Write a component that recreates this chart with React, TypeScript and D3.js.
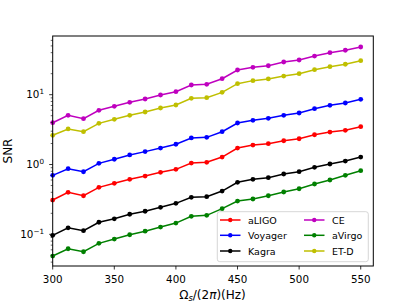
import React from 'react'
import { scaleLinear, scaleLog, line } from 'd3'

// frequency grid (Hz)
const freqs = [300, 312.5, 325, 337.5, 350, 362.5, 375, 387.5, 400, 412.5, 425, 437.5, 450, 462.5, 475, 487.5, 500, 512.5, 525, 537.5, 550]

const aLIGO = [0.31, 0.4, 0.357, 0.471, 0.538, 0.614, 0.684, 0.773, 0.853, 1.05, 1.075, 1.28, 1.72, 1.9, 1.99, 2.19, 2.34, 2.67, 2.92, 3.09, 3.48]
const voyager = [0.7, 0.871, 0.788, 1.04, 1.19, 1.37, 1.53, 1.72, 1.95, 2.4, 2.45, 2.95, 3.93, 4.3, 4.59, 5.07, 5.47, 6.3, 7.05, 7.6, 8.59]
const kagra = [0.0968, 0.124, 0.113, 0.149, 0.167, 0.194, 0.214, 0.244, 0.278, 0.339, 0.346, 0.417, 0.556, 0.614, 0.647, 0.731, 0.789, 0.912, 1.017, 1.12, 1.28]
const ce = [3.97, 5.07, 4.53, 5.98, 6.82, 7.78, 8.68, 9.9, 11.04, 13.77, 14.09, 16.95, 22.6, 24.7, 26.0, 29.4, 31.4, 35.8, 40.0, 43.3, 48.2]
const aVirgo = [0.0489, 0.0622, 0.0563, 0.0743, 0.0856, 0.0987, 0.111, 0.127, 0.145, 0.181, 0.187, 0.233, 0.3, 0.321, 0.357, 0.404, 0.45, 0.526, 0.6, 0.7, 0.815]
const etD = [2.62, 3.23, 2.95, 3.89, 4.44, 5.07, 5.65, 6.45, 7.12, 8.88, 9.06, 10.8, 14.4, 15.9, 16.8, 18.5, 20.0, 22.8, 25.2, 27.3, 30.7]

const seriesNames = ['aLIGO', 'Voyager', 'Kagra', 'CE', 'aVirgo', 'ET-D']
const seriesValues = [aLIGO, voyager, kagra, ce, aVirgo, etD]
const seriesColors = ['#ff0000', '#0000ff', '#000000', '#bf00bf', '#008000', '#bfbf00']

const xTicks = [300, 350, 400, 450, 500, 550]
const yMajor = [0.1, 1, 10]
const yMajorExp = ['−1', '0', '1']

const width = 415
const height = 305
const left = 52.7
const right = 373.3
const top = 36
const bottom = 266

const font = 'DejaVu Sans, sans-serif'

export default function App() {
  const x = scaleLinear().domain([300, 560.2]).range([left, right])
  const y = scaleLog().domain([0.0352, 69.3]).range([bottom, top])

  const path = line<number>()
    .x((d, i) => x(freqs[i]))
    .y(d => y(d))

  const minor: number[] = []
  ;[0.01, 0.1, 1, 10].forEach(dec => {
    for (let k = 2; k <= 9; k++) {
      const v = dec * k
      if (v > 0.0352 && v < 69.3) minor.push(v)
    }
  })

  const legX = 217.3
  const legY = 211.7
  const rowY = [220, 235.3, 251]
  const colX = [220, 304]

  return (
    <svg width={width} height={height} style={{ position: 'absolute', left: 0, top: 0 }} fontFamily={font}>
      <rect width={width} height={height} fill="white" />

      {seriesValues.map((vals, si) => (
        <g key={seriesNames[si]}>
          <path d={path(vals) || ''} fill="none" stroke={seriesColors[si]} strokeWidth={1.5} />
          {vals.map((v, i) => (
            <circle key={i} cx={x(freqs[i])} cy={y(v)} r={2.4} fill={seriesColors[si]} />
          ))}
        </g>
      ))}

      {/* axes frame */}
      <rect x={left} y={top} width={right - left} height={bottom - top} fill="none" stroke="black" strokeWidth={1} />

      {/* x ticks */}
      {xTicks.map(t => (
        <g key={t}>
          <line x1={x(t)} x2={x(t)} y1={bottom} y2={bottom + 3.5} stroke="black" strokeWidth={0.8} />
          <text x={x(t)} y={282.5} fontSize={10.3} textAnchor="middle">{t}</text>
        </g>
      ))}

      {/* y ticks */}
      {yMajor.map((t, i) => (
        <g key={t}>
          <line x1={left - 3.5} x2={left} y1={y(t)} y2={y(t)} stroke="black" strokeWidth={0.8} />
          <text x={44} y={y(t) + 3.7} fontSize={10.3} textAnchor="end">
            10<tspan fontSize={7.2} dy={-4.2}>{yMajorExp[i]}</tspan>
          </text>
        </g>
      ))}
      {minor.map(t => (
        <line key={t} x1={left - 2} x2={left} y1={y(t)} y2={y(t)} stroke="black" strokeWidth={0.6} />
      ))}

      {/* axis labels */}
      <text transform={`translate(11.5,${(top + bottom) / 2}) rotate(-90)`} fontSize={12} textAnchor="middle">SNR</text>
      <text x={212.5} y={298.5} fontSize={12} textAnchor="middle">
        Ω<tspan fontSize={8.4} dy={2} fontStyle="italic">s</tspan><tspan dy={-2}>/(2</tspan><tspan fontStyle="italic">π</tspan>)(Hz)
      </text>

      {/* legend */}
      <rect x={legX} y={legY} width={151} height={50} rx={2.5} fill="white" fillOpacity={0.8} stroke="#cccccc" strokeWidth={0.8} />
      {seriesNames.map((name, i) => {
        const cx = colX[Math.floor(i / 3)]
        const cy = rowY[i % 3]
        return (
          <g key={name}>
            <line x1={cx} x2={cx + 20.5} y1={cy} y2={cy} stroke={seriesColors[i]} strokeWidth={1.5} />
            <circle cx={cx + 10.25} cy={cy} r={2.2} fill={seriesColors[i]} />
            <text x={cx + 28} y={cy + 3.5} fontSize={9.5}>{name}</text>
          </g>
        )
      })}
    </svg>
  )
}
